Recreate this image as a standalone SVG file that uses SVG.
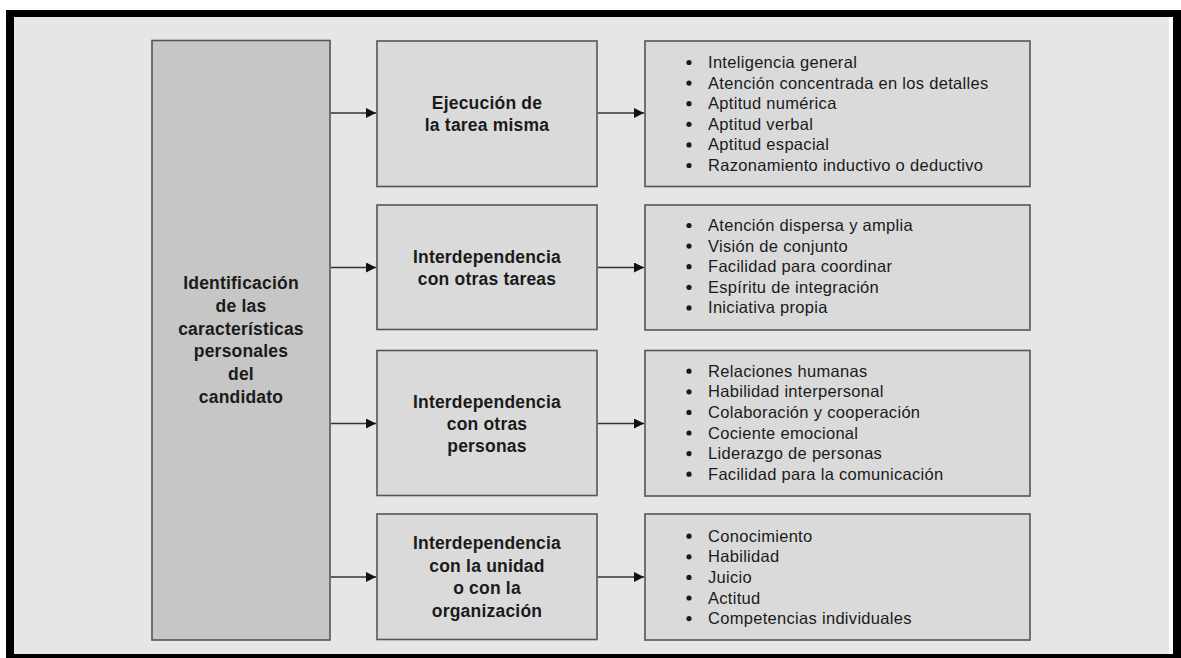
<svg xmlns="http://www.w3.org/2000/svg" width="1181" height="658" viewBox="0 0 1181 658">
  <style>
    .frame-bg { fill: #e6e6e6; }
    .box { fill: #dadada; stroke: #555; stroke-width: 1.6; }
    .box-main { fill: #c6c6c6; stroke: #555; stroke-width: 1.6; }
    .title { font-family: "Liberation Sans", Arial, sans-serif; font-weight: bold; font-size: 17.5px; fill: #1a1a1a; text-anchor: middle; letter-spacing: 0.2px; }
    .item { font-family: "Liberation Sans", Arial, sans-serif; font-size: 16.5px; fill: #1a1a1a; letter-spacing: 0.3px; }
    .dot { fill: #1a1a1a; }
    .link { stroke: #333; stroke-width: 1.6; fill: none; marker-end: url(#arrow); }
  </style>
  <defs>
    <marker id="arrow" viewBox="0 0 10 10" refX="10" refY="5" markerUnits="userSpaceOnUse" markerWidth="14" markerHeight="10" orient="auto">
      <path d="M0,0 L10,5 L0,10 Z" fill="#111"/>
    </marker>
  </defs>

  <!-- page and frame -->
  <rect x="0" y="0" width="1181" height="658" fill="#ffffff"/>
  <rect x="6" y="10" width="1175" height="648" fill="#000000"/>
  <rect class="frame-bg" x="14" y="17" width="1155" height="637"/>
  <rect x="1169" y="17" width="4" height="637" fill="#ffffff"/>

  <!-- left column -->
  <g id="candidato">
    <rect class="box-main" x="152" y="40.5" width="178" height="599.5"/>
    <text class="title" x="241" y="289">Identificación</text>
    <text class="title" x="241" y="311.8">de las</text>
    <text class="title" x="241" y="334.6">características</text>
    <text class="title" x="241" y="357.4">personales</text>
    <text class="title" x="241" y="380.2">del</text>
    <text class="title" x="241" y="403">candidato</text>
  </g>

  <!-- middle column -->
  <g id="tarea">
    <rect class="box" x="377" y="41" width="220" height="145.5"/>
    <text class="title" x="487" y="109">Ejecución de</text>
    <text class="title" x="487" y="131">la tarea misma</text>
  </g>
  <g id="otras-tareas">
    <rect class="box" x="377" y="205" width="220" height="124.5"/>
    <text class="title" x="487" y="262.5">Interdependencia</text>
    <text class="title" x="487" y="284.5">con otras tareas</text>
  </g>
  <g id="otras-personas">
    <rect class="box" x="377" y="350.5" width="220" height="145"/>
    <text class="title" x="487" y="407.5">Interdependencia</text>
    <text class="title" x="487" y="430">con otras</text>
    <text class="title" x="487" y="452">personas</text>
  </g>
  <g id="organizacion">
    <rect class="box" x="377" y="514" width="220" height="125.5"/>
    <text class="title" x="487" y="549">Interdependencia</text>
    <text class="title" x="487" y="571.5">con la unidad</text>
    <text class="title" x="487" y="594">o con la</text>
    <text class="title" x="487" y="616.5">organización</text>
  </g>

  <!-- right column -->
  <g id="aptitudes">
    <rect class="box" x="645" y="41" width="385" height="145.5"/>
    <circle class="dot" cx="689" cy="62.5" r="2.6"/>
    <circle class="dot" cx="689" cy="83.1" r="2.6"/>
    <circle class="dot" cx="689" cy="103.7" r="2.6"/>
    <circle class="dot" cx="689" cy="124.3" r="2.6"/>
    <circle class="dot" cx="689" cy="144.9" r="2.6"/>
    <circle class="dot" cx="689" cy="165.5" r="2.6"/>
    <text class="item" x="708" y="68">Inteligencia general</text>
    <text class="item" x="708" y="88.6">Atención concentrada en los detalles</text>
    <text class="item" x="708" y="109.2">Aptitud numérica</text>
    <text class="item" x="708" y="129.8">Aptitud verbal</text>
    <text class="item" x="708" y="150.4">Aptitud espacial</text>
    <text class="item" x="708" y="171">Razonamiento inductivo o deductivo</text>
  </g>
  <g id="coordinacion">
    <rect class="box" x="645" y="205" width="385" height="125"/>
    <circle class="dot" cx="689" cy="225.5" r="2.6"/>
    <circle class="dot" cx="689" cy="246.1" r="2.6"/>
    <circle class="dot" cx="689" cy="266.7" r="2.6"/>
    <circle class="dot" cx="689" cy="287.3" r="2.6"/>
    <circle class="dot" cx="689" cy="307.9" r="2.6"/>
    <text class="item" x="708" y="231">Atención dispersa y amplia</text>
    <text class="item" x="708" y="251.6">Visión de conjunto</text>
    <text class="item" x="708" y="272.2">Facilidad para coordinar</text>
    <text class="item" x="708" y="292.8">Espíritu de integración</text>
    <text class="item" x="708" y="313.4">Iniciativa propia</text>
  </g>
  <g id="relaciones">
    <rect class="box" x="645" y="350.5" width="385" height="145.5"/>
    <circle class="dot" cx="689" cy="371.2" r="2.6"/>
    <circle class="dot" cx="689" cy="391.8" r="2.6"/>
    <circle class="dot" cx="689" cy="412.4" r="2.6"/>
    <circle class="dot" cx="689" cy="433" r="2.6"/>
    <circle class="dot" cx="689" cy="453.6" r="2.6"/>
    <circle class="dot" cx="689" cy="474.2" r="2.6"/>
    <text class="item" x="708" y="376.7">Relaciones humanas</text>
    <text class="item" x="708" y="397.3">Habilidad interpersonal</text>
    <text class="item" x="708" y="417.9">Colaboración y cooperación</text>
    <text class="item" x="708" y="438.5">Cociente emocional</text>
    <text class="item" x="708" y="459.1">Liderazgo de personas</text>
    <text class="item" x="708" y="479.7">Facilidad para la comunicación</text>
  </g>
  <g id="competencias">
    <rect class="box" x="645" y="514" width="385" height="126"/>
    <circle class="dot" cx="689" cy="536.2" r="2.6"/>
    <circle class="dot" cx="689" cy="556.8" r="2.6"/>
    <circle class="dot" cx="689" cy="577.4" r="2.6"/>
    <circle class="dot" cx="689" cy="598" r="2.6"/>
    <circle class="dot" cx="689" cy="618.6" r="2.6"/>
    <text class="item" x="708" y="541.7">Conocimiento</text>
    <text class="item" x="708" y="562.3">Habilidad</text>
    <text class="item" x="708" y="582.9">Juicio</text>
    <text class="item" x="708" y="603.5">Actitud</text>
    <text class="item" x="708" y="624.1">Competencias individuales</text>
  </g>

  <!-- connectors -->
  <g id="connectors">
    <line class="link" x1="331" y1="113" x2="376" y2="113"/>
    <line class="link" x1="331" y1="267.5" x2="376" y2="267.5"/>
    <line class="link" x1="331" y1="423.5" x2="376" y2="423.5"/>
    <line class="link" x1="331" y1="577" x2="376" y2="577"/>
    <line class="link" x1="598" y1="113" x2="644" y2="113"/>
    <line class="link" x1="598" y1="267.5" x2="644" y2="267.5"/>
    <line class="link" x1="598" y1="423.5" x2="644" y2="423.5"/>
    <line class="link" x1="598" y1="577" x2="644" y2="577"/>
  </g>
</svg>
